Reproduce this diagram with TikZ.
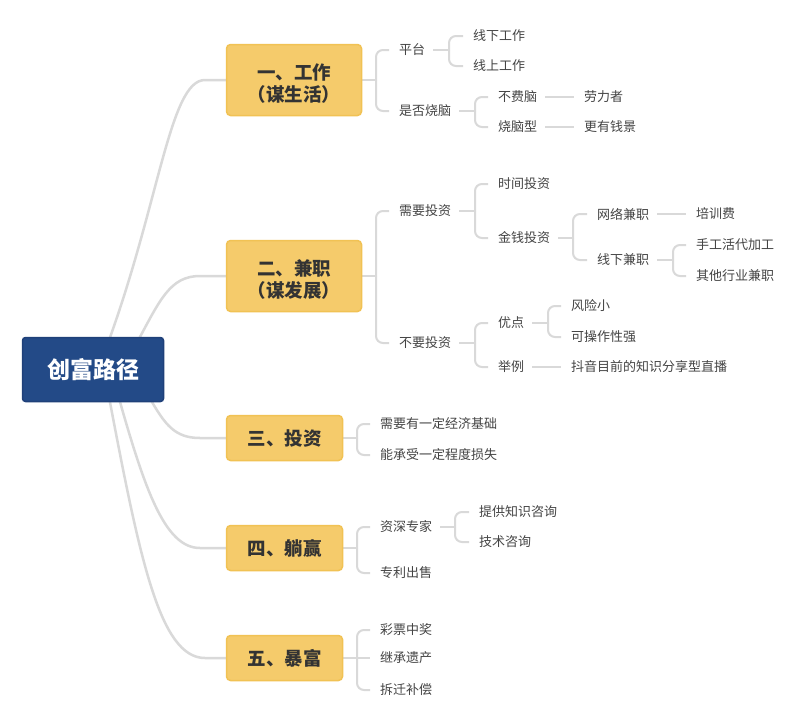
\documentclass[tikz,border=0pt]{standalone}
\usepackage{fontspec}
\setmainfont{Noto Sans CJK SC}
\usetikzlibrary{backgrounds}
\definecolor{rootblue}{HTML}{234A87}
\definecolor{rootborder}{HTML}{1F4079}
\definecolor{boxfill}{HTML}{F5CB6B}
\definecolor{boxborder}{HTML}{F1C254}
\definecolor{linegray}{HTML}{D9D9D9}
\definecolor{txt}{HTML}{333333}
\definecolor{leaftxt}{HTML}{444444}
\begin{document}
\begin{tikzpicture}[x=1pt,y=-1pt,
  rootbox/.style={draw=rootborder, line width=1.5pt, fill=rootblue, rounded corners=3pt,
    minimum width=141pt, minimum height=64pt, inner sep=0pt, text=white,
    font=\fontsize{23}{26}\selectfont\bfseries},
  catbox/.style={draw=boxborder, line width=1.5pt, fill=boxfill, rounded corners=4pt,
    minimum width=135pt, minimum height=71pt, inner sep=0pt, text=txt, align=center,
    font=\fontsize{18.5}{22}\selectfont\bfseries},
  boxtext/.style={align=center, inner sep=0pt, text=txt, yshift=-3.5pt,
    font=\fontsize{18.5}{21.5}\selectfont\bfseries},
  smallcat/.style={catbox, minimum width=116pt, minimum height=45pt},
  leaf/.style={anchor=west, inner xsep=0pt, inner ysep=2pt, text=leaftxt,
    font=\fontsize{13}{15}\selectfont},
  mainline/.style={draw=linegray, line width=2.5pt, line cap=round, line join=round},
  branch/.style={draw=linegray, line width=2pt, rounded corners=7pt}
]
\useasboundingbox (0,0) rectangle (805,723);

% main nodes
\node[rootbox] (root) at (93,369.5) {创富路径};
\node[catbox, label={[boxtext]center:{一、工作\\（谋生活）}}] (c1) at (294,80) {};
\node[catbox, label={[boxtext]center:{二、兼职\\（谋发展）}}] (c2) at (294,276) {};
\node[smallcat] (c3) at (284.5,438) {三、投资};
\node[smallcat] (c4) at (284.5,548) {四、躺赢};
\node[smallcat] (c5) at (284.5,658) {五、暴富};

% group 1
\node[leaf] (a1) at (399,50) {平台};
\node[leaf] (a2) at (399,111) {是否烧脑};
\node[leaf] (a11) at (473,36) {线下工作};
\node[leaf] (a12) at (473,66) {线上工作};
\node[leaf] (a21) at (498,97) {不费脑};
\node[leaf] (a22) at (498,127) {烧脑型};
\node[leaf] (a211) at (584,97) {劳力者};
\node[leaf] (a221) at (584,127) {更有钱景};

% group 2
\node[leaf] (b1) at (399,211) {需要投资};
\node[leaf] (b2) at (399,343) {不要投资};
\node[leaf] (b11) at (498,184) {时间投资};
\node[leaf] (b12) at (498,238) {金钱投资};
\node[leaf] (b121) at (597,214) {网络兼职};
\node[leaf] (b122) at (597,260) {线下兼职};
\node[leaf] (b1211) at (696,214) {培训费};
\node[leaf] (b1221) at (696,245) {手工活代加工};
\node[leaf] (b1222) at (696,276) {其他行业兼职};
\node[leaf] (b21) at (498,323) {优点};
\node[leaf] (b22) at (498,367) {举例};
\node[leaf] (b211) at (571,306) {风险小};
\node[leaf] (b212) at (571,337) {可操作性强};
\node[leaf] (b221) at (571,367) {抖音目前的知识分享型直播};

% group 3
\node[leaf] (d1) at (380,424) {需要有一定经济基础};
\node[leaf] (d2) at (380,455) {能承受一定程度损失};

% group 4
\node[leaf] (e1) at (380,527) {资深专家};
\node[leaf] (e2) at (380,573) {专利出售};
\node[leaf] (e11) at (479,512) {提供知识咨询};
\node[leaf] (e12) at (479,542) {技术咨询};

% group 5
\node[leaf] (f1) at (380,630) {彩票中奖};
\node[leaf] (f2) at (380,658) {继承遗产};
\node[leaf] (f3) at (380,690) {拆迁补偿};

% junctions
\coordinate (jc1) at (376,80);
\coordinate (ja1) at (449,50);
\coordinate (ja2) at (475,111);
\coordinate (jc2) at (376,276);
\coordinate (jb1) at (475,211);
\coordinate (jb12) at (573,238);
\coordinate (jb122) at (673,260);
\coordinate (jb2) at (475,343);
\coordinate (jb21) at (548,323);
\coordinate (jc3) at (357,438);
\coordinate (jc4) at (357,548);
\coordinate (je1) at (455,527);
\coordinate (jc5) at (357,658);

\begin{scope}[on background layer]
\fill[white] (0,0) rectangle (805,723);
% root curves
\draw[mainline] (root.center) -- (108,343) .. controls (160,200) and (170,80) .. (205,80) -- (c1.west);
\draw[mainline] (root.center) -- (137,342.5) .. controls (160,300) and (170,276) .. (200,276) -- (c2.west);
\draw[mainline] (root.center) -- (149.5,397.6) .. controls (165,425) and (175,438) .. (200,438) -- (c3.west);
\draw[mainline] (root.center) -- (118.6,397) .. controls (145,490) and (165,548) .. (200,548) -- (c4.west);
\draw[mainline] (root.center) -- (109,397) .. controls (140,560) and (160,658) .. (205,658) -- (c5.west);

% group 1
\draw[branch] (c1.east) -- (jc1);
\draw[branch] (jc1) |- ([xshift=-10pt]a1.west);
\draw[branch] (jc1) |- ([xshift=-10pt]a2.west);
\draw[branch] ([xshift=8pt]a1.east) -- (ja1);
\draw[branch] (ja1) |- ([xshift=-10pt]a11.west);
\draw[branch] (ja1) |- ([xshift=-10pt]a12.west);
\draw[branch] ([xshift=8pt]a2.east) -- (ja2);
\draw[branch] (ja2) |- ([xshift=-10pt]a21.west);
\draw[branch] (ja2) |- ([xshift=-10pt]a22.west);
\draw[branch] ([xshift=8pt]a21.east) -- ([xshift=-10pt]a211.west);
\draw[branch] ([xshift=8pt]a22.east) -- ([xshift=-10pt]a221.west);

% group 2
\draw[branch] (c2.east) -- (jc2);
\draw[branch] (jc2) |- ([xshift=-10pt]b1.west);
\draw[branch] (jc2) |- ([xshift=-10pt]b2.west);
\draw[branch] ([xshift=8pt]b1.east) -- (jb1);
\draw[branch] (jb1) |- ([xshift=-10pt]b11.west);
\draw[branch] (jb1) |- ([xshift=-10pt]b12.west);
\draw[branch] ([xshift=8pt]b12.east) -- (jb12);
\draw[branch] (jb12) |- ([xshift=-10pt]b121.west);
\draw[branch] (jb12) |- ([xshift=-10pt]b122.west);
\draw[branch] ([xshift=8pt]b121.east) -- ([xshift=-10pt]b1211.west);
\draw[branch] ([xshift=8pt]b122.east) -- (jb122);
\draw[branch] (jb122) |- ([xshift=-10pt]b1221.west);
\draw[branch] (jb122) |- ([xshift=-10pt]b1222.west);
\draw[branch] ([xshift=8pt]b2.east) -- (jb2);
\draw[branch] (jb2) |- ([xshift=-10pt]b21.west);
\draw[branch] (jb2) |- ([xshift=-10pt]b22.west);
\draw[branch] ([xshift=8pt]b21.east) -- (jb21);
\draw[branch] (jb21) |- ([xshift=-10pt]b211.west);
\draw[branch] (jb21) |- ([xshift=-10pt]b212.west);
\draw[branch] ([xshift=8pt]b22.east) -- ([xshift=-10pt]b221.west);

% group 3
\draw[branch] (c3.east) -- (jc3);
\draw[branch] (jc3) |- ([xshift=-10pt]d1.west);
\draw[branch] (jc3) |- ([xshift=-10pt]d2.west);

% group 4
\draw[branch] (c4.east) -- (jc4);
\draw[branch] (jc4) |- ([xshift=-10pt]e1.west);
\draw[branch] (jc4) |- ([xshift=-10pt]e2.west);
\draw[branch] ([xshift=8pt]e1.east) -- (je1);
\draw[branch] (je1) |- ([xshift=-10pt]e11.west);
\draw[branch] (je1) |- ([xshift=-10pt]e12.west);

% group 5
\draw[branch] (c5.east) -- (jc5);
\draw[branch] (jc5) |- ([xshift=-10pt]f1.west);
\draw[branch] (jc5) -- ([xshift=-10pt]f2.west);
\draw[branch] (jc5) |- ([xshift=-10pt]f3.west);
\end{scope}
\end{tikzpicture}
\end{document}
